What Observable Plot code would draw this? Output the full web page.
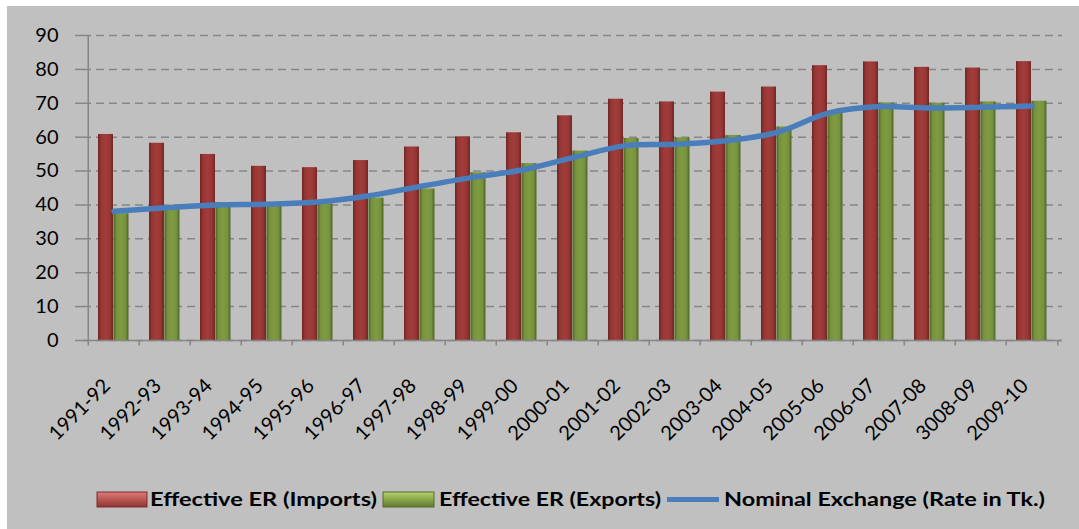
<!DOCTYPE html>
<html>
<head>
<meta charset="utf-8">
<script src="https://cdn.jsdelivr.net/npm/d3@7"></script>
<script src="https://cdn.jsdelivr.net/npm/@observablehq/plot@0.6"></script>
<style>
  html, body { margin: 0; padding: 0; background: #ffffff; }
  #panel { position: absolute; left: 7px; top: 6px; width: 1072px; height: 523px; background: #c0c0c0; overflow: hidden; }
  #chart { position: absolute; left: 0; top: 0; }
  #legend { position: absolute; left: 0; top: 460px; }
</style>
</head>
<body>
<div id="panel">
  <div id="chart"></div>
  <svg id="legend" width="1072" height="63"></svg>
</div>
<script>
const categories = ["1991-92","1992-93","1993-94","1994-95","1995-96","1996-97","1997-98","1998-99","1999-00","2000-01","2001-02","2002-03","2003-04","2004-05","2005-06","2006-07","2007-08","3008-09","2009-10"];
const importsER = [60.8, 58.2, 54.9, 51.4, 51.0, 53.1, 57.1, 60.1, 61.3, 66.3, 71.2, 70.4, 73.3, 74.8, 81.1, 82.2, 80.6, 80.4, 82.3];
const exportsER = [37.4, 38.8, 40.7, 39.7, 40.3, 42.0, 44.7, 49.5, 52.2, 55.9, 59.6, 59.8, 60.5, 63.0, 67.2, 70.1, 70.0, 70.4, 70.6];
const nominalER = [38.15, 39.14, 40.0, 40.2, 40.84, 42.7, 45.46, 48.06, 50.31, 53.96, 57.43, 57.9, 58.94, 61.39, 67.08, 69.03, 68.6, 68.8, 69.18];
const yTicks = [0, 10, 20, 30, 40, 50, 60, 70, 80, 90];
const seriesNames = ["Effective ER (Imports)", "Effective ER (Exports)", "Nominal Exchange (Rate in Tk.)"];

const data = categories.map((c, i) => ({cat: c, imp: importsER[i], exp: exportsER[i], nom: nominalER[i]}));

const W = 1072, H = 460, mL = 76, mR = 17, mT = 29, mB = 126;
const bw = (W - mL - mR) / categories.length;
const axisColor = "#868686";

const defs = () => {
  const d = d3.create("svg:defs");
  const mk = (id, edge, mid, light) => {
    const g = d.append("linearGradient").attr("id", id).attr("x1", 0).attr("x2", 1).attr("y1", 0).attr("y2", 0);
    g.append("stop").attr("offset", "0%").attr("stop-color", edge);
    g.append("stop").attr("offset", "20%").attr("stop-color", mid);
    g.append("stop").attr("offset", "50%").attr("stop-color", light);
    g.append("stop").attr("offset", "80%").attr("stop-color", mid);
    g.append("stop").attr("offset", "100%").attr("stop-color", edge);
  };
  mk("gradRed", "#6e2422", "#953735", "#a23c3a");
  mk("gradGreen", "#4f6228", "#76923c", "#7f9c42");
  return d.node();
};

const plot = Plot.plot({
  width: W, height: H,
  marginLeft: mL, marginRight: mR, marginTop: mT, marginBottom: mB,
  style: {background: "transparent", fontFamily: "Lato, 'Open Sans', sans-serif", fontSize: "20px", color: "#000", overflow: "visible"},
  x: {type: "band", domain: categories, padding: 0, label: null},
  y: {domain: [0, 90], label: null},
  marks: [
    defs,
    Plot.gridY(yTicks, {stroke: axisColor, strokeOpacity: 1, strokeWidth: 1.5, strokeDasharray: "8,5"}),
    Plot.barY(data, {x: "cat", y: "imp", fill: "url(#gradRed)", insetLeft: 10, insetRight: bw - 25.5}),
    Plot.barY(data, {x: "cat", y: "exp", fill: "url(#gradGreen)", insetLeft: 25.5, insetRight: bw - 41}),
    Plot.ruleY([0], {stroke: axisColor, strokeWidth: 1.5}),
    Plot.ruleX([categories[0]], {y1: -1.6, y2: 90, dx: -bw / 2, stroke: axisColor, strokeWidth: 1.5}),
    Plot.ruleX(categories.slice(1), {y1: -1.6, y2: 0, dx: -bw / 2, stroke: axisColor, strokeWidth: 1.5}),
    Plot.ruleX([categories[categories.length - 1]], {y1: -1.6, y2: 0, dx: bw / 2, stroke: axisColor, strokeWidth: 1.5}),
    Plot.lineY(data, {x: "cat", y: "nom", stroke: "#4a7ebb", strokeWidth: 5.5, curve: "catmull-rom", strokeLinecap: "round"}),
    Plot.axisY(yTicks, {tickSize: 8, tickPadding: 17, stroke: axisColor, strokeWidth: 1.5, fill: "#000", fontSize: 20, label: null}),
    Plot.axisX({tickSize: 0, tickRotate: -45, tickPadding: 42, dx: -7, fill: "#000", fontSize: 20, label: null})
  ]
});
document.getElementById("chart").appendChild(plot);

// Legend
const lg = d3.select("#legend").style("font-family", "Lato, 'Open Sans', sans-serif");
const ldefs = lg.append("defs");
const vg = (id, top, bot) => {
  const g = ldefs.append("linearGradient").attr("id", id).attr("x1", 0).attr("x2", 0).attr("y1", 0).attr("y2", 1);
  g.append("stop").attr("offset", "0%").attr("stop-color", top);
  g.append("stop").attr("offset", "100%").attr("stop-color", bot);
};
vg("lgRed", "#e07a78", "#8f3432");
vg("lgGreen", "#b5d36a", "#5f7a2e");
const items = [
  {type: "rect", x: 90, w: 50, fill: "url(#lgRed)", stroke: "#7a2c2a", tx: 143, tw: 227},
  {type: "rect", x: 376, w: 51, fill: "url(#lgGreen)", stroke: "#566b2a", tx: 432, tw: 222},
  {type: "line", x: 660, w: 52, stroke: "#4a7ebb", tx: 717, tw: 321}
];
items.forEach((it, i) => {
  if (it.type === "rect") {
    lg.append("rect").attr("x", it.x).attr("y", 26).attr("width", it.w).attr("height", 15)
      .attr("fill", it.fill).attr("stroke", it.stroke).attr("stroke-width", 1);
  } else {
    lg.append("line").attr("x1", it.x).attr("x2", it.x + it.w).attr("y1", 33.5).attr("y2", 33.5)
      .attr("stroke", it.stroke).attr("stroke-width", 5);
  }
  lg.append("text").attr("x", it.tx).attr("y", 40).attr("font-size", 19).attr("font-weight", "bold")
    .attr("fill", "#000").attr("textLength", it.tw).attr("lengthAdjust", "spacingAndGlyphs")
    .text(seriesNames[i]);
});
</script>
</body>
</html>
